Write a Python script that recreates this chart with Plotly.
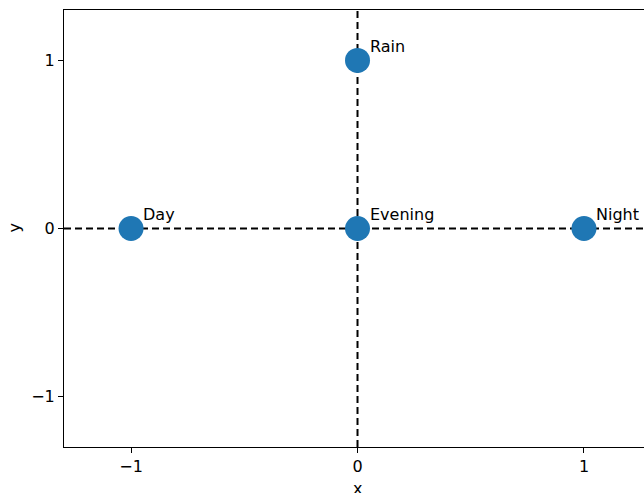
import plotly.graph_objects as go

labels = ["Day", "Evening", "Night", "Rain"]
x_vals = [-1, 0, 1, 0]
y_vals = [0, 0, 0, 1]
tick_vals = [-1, 0, 1]
tick_text = ["\u22121", "0", "1"]
x_title = "x"
y_title = "y"

FONT = "DejaVu Sans"
FS = 16

fig = go.Figure()
fig.add_trace(go.Scatter(
    x=x_vals, y=y_vals, mode="markers",
    marker=dict(size=25, color="#1f77b4", line=dict(width=0)),
    showlegend=False, hoverinfo="skip",
))

for lab, xv, yv in zip(labels, x_vals, y_vals):
    fig.add_annotation(x=xv, y=yv, text=lab, showarrow=False,
                       xanchor="left", yanchor="middle", xshift=10, yshift=14,
                       font=dict(family=FONT, size=FS, color="black"))

# axis titles
fig.add_annotation(x=0, xref="x", y=0, yref="paper", text=x_title, showarrow=False,
                   xanchor="center", yanchor="middle", yshift=-41,
                   font=dict(family=FONT, size=FS, color="black"))
fig.add_annotation(x=0, xref="paper", y=0, yref="y", text=y_title, showarrow=False,
                   xanchor="center", yanchor="middle", xshift=-50, textangle=-90,
                   font=dict(family=FONT, size=FS, color="black"))

fig.add_shape(type="line", xref="x", yref="paper", x0=0, x1=0, y0=0, y1=1,
              line=dict(color="black", width=2, dash="7px,4px"), layer="below")
fig.add_shape(type="line", xref="paper", yref="y", x0=0, x1=1, y0=0, y1=0,
              line=dict(color="black", width=2, dash="7px,4px"), layer="below")

fig.update_layout(
    width=644, height=493,
    margin=dict(l=64, r=0, t=10, b=46),
    paper_bgcolor="white", plot_bgcolor="white",
    font=dict(family=FONT, size=FS, color="black"),
)
fig.update_xaxes(
    range=[-1.296, 1.265], tickvals=tick_vals, ticktext=tick_text,
    showgrid=False, zeroline=False, showline=True, linecolor="black", linewidth=1,
    mirror=True, ticks="outside", ticklen=5, tickcolor="black",
    tickfont=dict(size=FS), automargin=False,
)
fig.update_yaxes(
    range=[-1.3, 1.3], tickvals=tick_vals, ticktext=tick_text,
    showgrid=False, zeroline=False, showline=True, linecolor="black", linewidth=1,
    mirror=False, ticks="outside", ticklen=5, tickcolor="black",
    tickfont=dict(size=FS), automargin=False,
)

fig.write_html("out.html", config={"displayModeBar": False},
               post_script="document.body.style.margin='0';document.body.style.overflow='hidden';")
